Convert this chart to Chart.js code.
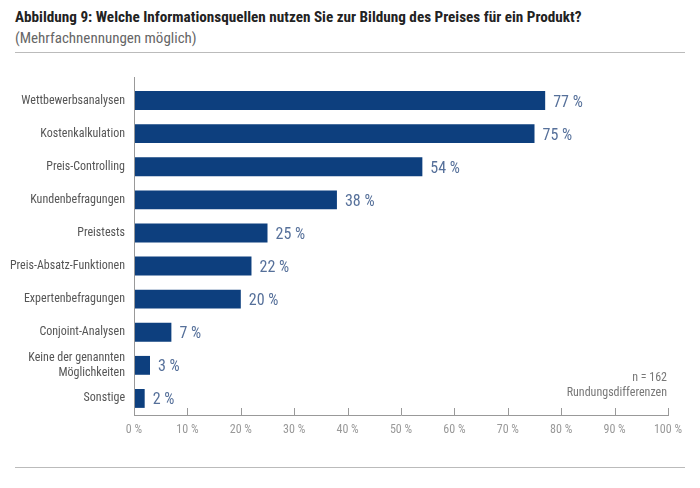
<!DOCTYPE html>
<html>
<head>
<meta charset="utf-8">
<script src="https://cdn.jsdelivr.net/npm/chart.js@4"></script>
<style>
  html, body { margin: 0; padding: 0; background: #fff; }
  #wrap { position: relative; width: 700px; height: 488px; overflow: hidden; font-family: "Liberation Sans Narrow", "Roboto Condensed", "Liberation Sans", sans-serif; }
  #title { position: absolute; left: 15px; top: 8px; font-size: 15.2px; font-weight: bold; color: #222; white-space: nowrap; }
  #subtitle { position: absolute; left: 15px; top: 29px; font-size: 15px; color: #666; white-space: nowrap; }
  .rule { position: absolute; left: 15px; width: 670px; height: 1px; background: #bbb; }
  #note { position: absolute; right: 33px; top: 370px; font-size: 12px; line-height: 15px; color: #777; text-align: right; }
  canvas { position: absolute; left: 0; top: 0; }
</style>
</head>
<body>
<div id="wrap">
  <div id="title">Abbildung 9: Welche Informationsquellen nutzen Sie zur Bildung des Preises für ein Produkt?</div>
  <div id="subtitle">(Mehrfachnennungen möglich)</div>
  <div class="rule" style="top:52px"></div>
  <div class="rule" style="top:467px"></div>
  <canvas id="priceChart" width="700" height="488"></canvas>
  <div id="note">n = 162<br>Rundungsdifferenzen</div>
</div>
<script>
// Daten
const categories = [
    'Wettbewerbsanalysen',
    'Kostenkalkulation',
    'Preis-Controlling',
    'Kundenbefragungen',
    'Preistests',
    'Preis-Absatz-Funktionen',
    'Expertenbefragungen',
    'Conjoint-Analysen',
    ['Keine der genannten', 'Möglichkeiten'],
    'Sonstige'
];
const shares = [77, 75, 54, 38, 25, 22, 20, 7, 3, 2];
const xTicks = [0, 10, 20, 30, 40, 50, 60, 70, 80, 90, 100];

const FONT = '"Liberation Sans Narrow", "Roboto Condensed", "Liberation Sans", sans-serif';

// value labels, upward tick marks and the y axis line
const decorations = {
    id: 'decorations',
    afterDatasetsDraw(chart) {
        const { ctx, chartArea, scales } = chart;
        const meta = chart.getDatasetMeta(0);
        ctx.save();
        ctx.font = '16px ' + FONT;
        ctx.fillStyle = '#56709a';
        ctx.textBaseline = 'middle';
        meta.data.forEach((bar, i) => {
            ctx.fillText(shares[i] + ' %', bar.x + 8, bar.y + 2);
        });

        ctx.strokeStyle = '#999';
        ctx.lineWidth = 1;
        ctx.beginPath();
        const left = Math.round(chartArea.left) + 0.5;
        ctx.moveTo(left, chartArea.top - 7);
        ctx.lineTo(left, chartArea.bottom);
        xTicks.slice(1).forEach(v => {
            const px = Math.round(scales.x.getPixelForValue(v)) + 0.5;
            ctx.moveTo(px, chartArea.bottom);
            ctx.lineTo(px, chartArea.bottom - 7);
        });
        ctx.stroke();
        ctx.restore();
    }
};

new Chart(document.getElementById('priceChart'), {
    type: 'bar',
    data: {
        labels: categories,
        datasets: [{
            data: shares,
            backgroundColor: '#0d3f7e',
            borderWidth: 0,
            barPercentage: 0.57,
            categoryPercentage: 1
        }]
    },
    options: {
        indexAxis: 'y',
        responsive: false,
        animation: false,
        layout: { padding: { top: 84, right: 32, bottom: 0, left: 0 } },
        plugins: {
            legend: { display: false },
            tooltip: { enabled: false }
        },
        scales: {
            x: {
                min: 0,
                max: 100,
                afterFit: scale => { scale.height = 73; },
                afterBuildTicks: scale => { scale.ticks = xTicks.map(v => ({ value: v })); },
                grid: { display: false, drawTicks: false },
                border: { display: true, color: '#999', width: 1 },
                ticks: {
                    padding: 8,
                    color: '#999',
                    font: { family: FONT, size: 12 },
                    callback: v => v + ' %'
                }
            },
            y: {
                afterFit: scale => { scale.width = 134; },
                grid: { display: false, drawTicks: false },
                border: { display: false },
                ticks: {
                    padding: 9,
                    color: '#555',
                    font: { family: FONT, size: 12 }
                }
            }
        }
    },
    plugins: [decorations]
});
</script>
</body>
</html>
